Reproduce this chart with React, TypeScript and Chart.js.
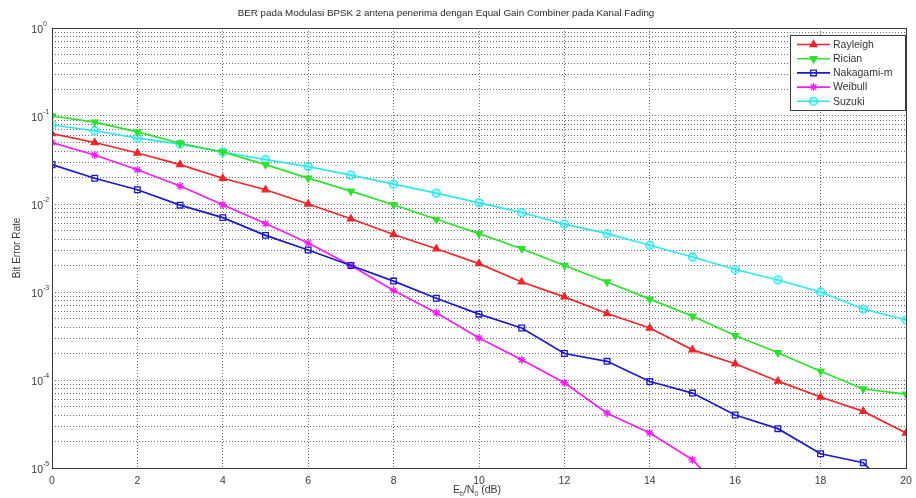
import React, { useEffect, useRef } from 'react';
import { Chart, registerables } from 'chart.js';
import { drawPoint } from 'chart.js/helpers';

Chart.register(...registerables);

const ebn0 = [0, 1, 2, 3, 4, 5, 6, 7, 8, 9, 10, 11, 12, 13, 14, 15, 16, 17, 18, 19, 20];

const rayleigh = [0.063, 0.05, 0.038, 0.028, 0.0196, 0.0145, 0.010, 0.0068, 0.0045, 0.0031, 0.0021, 0.0013, 0.00088, 0.00057, 0.00039, 0.00022, 0.000153, 0.000097, 0.000064, 0.000044, 0.000025];
const rician = [0.1, 0.085, 0.066, 0.049, 0.039, 0.028, 0.0197, 0.014, 0.0098, 0.0067, 0.0046, 0.0031, 0.002, 0.0013, 0.00083, 0.00053, 0.00032, 0.000204, 0.000126, 0.000079, 0.000069];
const nakagami = [0.028, 0.0196, 0.0145, 0.0097, 0.007, 0.0044, 0.003, 0.002, 0.00133, 0.00085, 0.00056, 0.00039, 0.0002, 0.000163, 0.000096, 0.000071, 0.00004, 0.000028, 0.0000145, 0.0000115, 0.0000036];
const weibull = [0.05, 0.036, 0.0245, 0.016, 0.0098, 0.006, 0.0036, 0.002, 0.00104, 0.00058, 0.0003, 0.00017, 0.000093, 0.000042, 0.000025, 0.0000124, 0.0000038];
const suzuki = [0.079, 0.068, 0.056, 0.048, 0.039, 0.032, 0.0266, 0.0213, 0.0168, 0.0133, 0.0103, 0.008, 0.0059, 0.0046, 0.0034, 0.0025, 0.0018, 0.00137, 0.001, 0.00064, 0.00048];

const seriesNames = ['Rayleigh', 'Rician', 'Nakagami-m', 'Weibull', 'Suzuki'];
const seriesValues = [rayleigh, rician, nakagami, weibull, suzuki];
const seriesColors = ['#f0262a', '#2fe02f', '#1a1ac8', '#f51ef5', '#2ee8ee'];
const seriesFills = ['#f0262a', '#2fe02f', 'rgba(255,255,255,0)', '#f51ef5', 'rgba(46,232,238,0.35)'];
const seriesMarkers = ['triangle', 'triangle', 'rect', 'star', 'circle'];
const seriesRotation = [0, 180, 0, 0, 0];

const xTicks = [0, 2, 4, 6, 8, 10, 12, 14, 16, 18, 20];
const yDecades = [0, -1, -2, -3, -4, -5];

const titleText = 'BER pada Modulasi BPSK 2 antena penerima dengan Equal Gain Combiner pada Kanal Fading';
const yTitle = 'Bit Error Rate';

const FONT = '"Liberation Sans", Arial, sans-serif';

const decorPlugin = {
  id: 'decor',
  afterDraw(chart: any) {
    const ctx = chart.ctx;
    const a = chart.chartArea;
    const ys = chart.scales.y;
    ctx.save();
    ctx.strokeStyle = '#3a3a3a';
    ctx.lineWidth = 1;
    ctx.setLineDash([]);
    ctx.strokeRect(Math.round(a.left) + 0.5, Math.round(a.top) + 0.5, Math.round(a.right - a.left), Math.round(a.bottom - a.top));

    ctx.fillStyle = '#3a3a3a';
    yDecades.forEach((k) => {
      const py = ys.getPixelForValue(Math.pow(10, k));
      ctx.font = `10.5px ${FONT}`;
      ctx.textAlign = 'right';
      ctx.textBaseline = 'middle';
      ctx.fillText('10', a.left - 9, py + 2);
      ctx.font = `7px ${FONT}`;
      ctx.textAlign = 'left';
      ctx.fillText(String(k), a.left - 9, py - 4);
    });

    ctx.font = `9.8px ${FONT}`;
    ctx.textAlign = 'center';
    ctx.textBaseline = 'middle';
    ctx.fillStyle = '#2a2a2a';
    ctx.fillText(titleText, 446, 13);

    ctx.save();
    ctx.translate(17, (a.top + a.bottom) / 2);
    ctx.rotate(-Math.PI / 2);
    ctx.font = `10px ${FONT}`;
    ctx.fillStyle = '#3a3a3a';
    ctx.fillText(yTitle, 0, 0);
    ctx.restore();

    ctx.fillStyle = '#3a3a3a';
    ctx.textAlign = 'left';
    ctx.textBaseline = 'alphabetic';
    let x = 453;
    const by = 493;
    const parts: [string, boolean][] = [['E', false], ['b', true], ['/N', false], ['0', true], [' (dB)', false]];
    parts.forEach(([t, sub]) => {
      ctx.font = sub ? `7px ${FONT}` : `10.5px ${FONT}`;
      ctx.fillText(t, x, sub ? by + 3 : by);
      x += ctx.measureText(t).width;
    });

    const lx = 790, ly = 35, lw = 115, lh = 75;
    ctx.fillStyle = '#ffffff';
    ctx.fillRect(lx, ly, lw, lh);
    ctx.strokeStyle = '#3a3a3a';
    ctx.lineWidth = 1;
    ctx.strokeRect(lx + 0.5, ly + 0.5, lw, lh);
    seriesNames.forEach((name, i) => {
      const ry = ly + 9.5 + i * 14.2;
      ctx.strokeStyle = seriesColors[i];
      ctx.lineWidth = 1.6;
      ctx.beginPath();
      ctx.moveTo(797, ry);
      ctx.lineTo(830, ry);
      ctx.stroke();
      ctx.fillStyle = seriesFills[i];
      ctx.lineWidth = 1.3;
      drawPoint(ctx, { pointStyle: seriesMarkers[i], radius: 4, rotation: seriesRotation[i], borderWidth: 1.3 }, 813.5, ry);
      ctx.fillStyle = '#333333';
      ctx.font = `10.5px ${FONT}`;
      ctx.textAlign = 'left';
      ctx.textBaseline = 'middle';
      ctx.fillText(name, 833, ry + 0.5);
    });
    ctx.restore();
  },
};

export default function App() {
  const ref = useRef<HTMLCanvasElement | null>(null);
  useEffect(() => {
    document.body.style.margin = '0';
    const canvas = ref.current!;
    const datasets = seriesNames.map((name, i) => ({
      label: name,
      data: seriesValues[i].map((v, j) => ({ x: ebn0[j], y: v })),
      borderColor: seriesColors[i],
      backgroundColor: seriesFills[i],
      pointBackgroundColor: seriesFills[i],
      pointBorderColor: seriesColors[i],
      pointStyle: seriesMarkers[i],
      pointRotation: seriesRotation[i],
      pointRadius: 4,
      pointBorderWidth: 1.3,
      borderWidth: 1.7,
      tension: 0,
      fill: false,
    }));
    const chart = new Chart(canvas, {
      type: 'line',
      data: { datasets },
      options: {
        responsive: false,
        animation: false,
        layout: { padding: { top: 28, right: 10, left: 0, bottom: 0 } },
        plugins: { legend: { display: false }, title: { display: false }, tooltip: { enabled: false } },
        scales: {
          x: {
            type: 'linear',
            min: 0,
            max: 20,
            afterBuildTicks: (s: any) => { s.ticks = xTicks.map((v) => ({ value: v })); },
            afterFit: (s: any) => { s.height = 30; s.paddingRight = 0; s.paddingLeft = 0; },
            ticks: { color: '#3a3a3a', font: { family: FONT, size: 10.5 }, padding: 7, maxRotation: 0, autoSkip: false },
            grid: { color: '#6a6a6a', lineWidth: 1, tickLength: 0, drawTicks: false },
            border: { display: false, dash: [1, 2] },
          },
          y: {
            type: 'logarithmic',
            min: 1e-5,
            max: 1,
            afterBuildTicks: (s: any) => {
              const t: any[] = [];
              for (let k = -5; k < 0; k++) {
                for (let m = 1; m <= 9; m++) t.push({ value: m * Math.pow(10, k) });
              }
              t.push({ value: 1 });
              s.ticks = t;
            },
            afterFit: (s: any) => { s.width = 52; s.paddingTop = 0; s.paddingBottom = 0; },
            ticks: { display: false, autoSkip: false },
            grid: { color: '#6a6a6a', lineWidth: 1, drawTicks: false },
            border: { display: false, dash: [1, 2] },
          },
        },
      },
      plugins: [decorPlugin],
    });
    return () => chart.destroy();
  }, []);
  return (
    <div style={{ width: 916, height: 498 }}>
      <canvas ref={ref} width={916} height={498} />
    </div>
  );
}
